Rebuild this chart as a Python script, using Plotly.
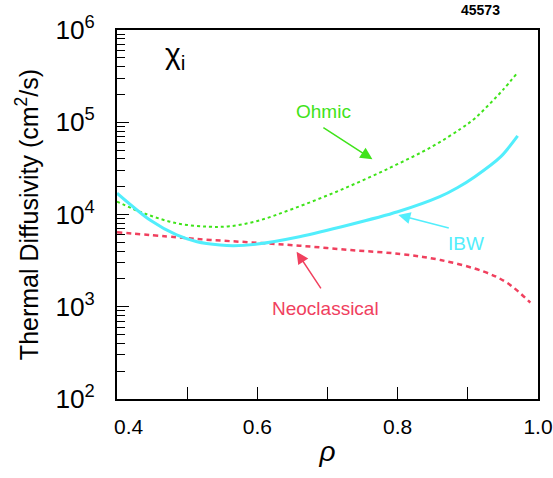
import plotly.graph_objects as go

# ---- data ----
rho_ohmic = [0.40, 0.44, 0.485, 0.53, 0.56, 0.60, 0.65, 0.72, 0.79, 0.85, 0.89, 0.91, 0.93, 0.95, 0.97]
chi_ohmic = [13800, 10200, 8040, 7380, 7450, 8510, 11480, 18620, 32360, 54950, 85100, 110000, 155000, 224000, 339000]

rho_ibw = [0.40, 0.447, 0.485, 0.514, 0.547, 0.566, 0.60, 0.66, 0.73, 0.80, 0.86, 0.885, 0.91, 0.947, 0.971]
chi_ibw = [17000, 8700, 6000, 5070, 4670, 4590, 4790, 5750, 7690, 10700, 15600, 19500, 25700, 42400, 71000]

rho_neo = [0.40, 0.485, 0.533, 0.59, 0.66, 0.733, 0.804, 0.861, 0.923, 0.957, 0.989]
chi_neo = [6410, 5660, 5300, 4990, 4590, 4120, 3730, 3210, 2400, 1795, 1107]

x_tickvals = [0.4, 0.6, 0.8, 1.0]
x_ticktext = ["\u00a0\u00a0\u00a0\u00a00.4", "0.6", "0.8", "1.0"]

GREEN = "#3fe31a"
CYAN = "#52eefc"
RED = "#f0405e"
FONT = "Liberation Sans, Arial, Helvetica, sans-serif"

fig = go.Figure()
fig.add_trace(go.Scatter(x=rho_ohmic, y=chi_ohmic, mode="lines", line_shape="spline",
                         line=dict(color=GREEN, width=2, dash="dot"), name="Ohmic"))
fig.add_trace(go.Scatter(x=rho_neo, y=chi_neo, mode="lines", line_shape="spline",
                         line=dict(color=RED, width=2.5, dash="5px,4px"), name="Neoclassical"))
fig.add_trace(go.Scatter(x=rho_ibw, y=chi_ibw, mode="lines", line_shape="spline", line_smoothing=0.8,
                         line=dict(color=CYAN, width=3), name="IBW"))

# labels and arrows (positions in axis coords; log10 for y)
labels = [
    # text, color, text x, text logy, arrow tail x, tail logy, head x, head logy
    ("Ohmic", GREEN, 0.694, 5.114, 0.692, 4.952, 0.764, 4.598),
    ("IBW", CYAN, 0.898, 3.691, 0.875, 3.850, 0.801, 3.995),
    ("Neoclassical", RED, 0.697, 2.986, 0.692, 3.182, 0.656, 3.597),
]
for txt, col, tx, ty, ax, ay, hx, hy in labels:
    fig.add_annotation(x=tx, y=ty, text=txt, showarrow=False,
                       font=dict(family=FONT, size=19, color=col))
    fig.add_annotation(x=hx, y=hy, ax=ax, ay=ay, axref="x", ayref="y", text="",
                       showarrow=True, arrowhead=2, arrowsize=1.6, arrowwidth=1.5,
                       arrowcolor=col, standoff=0, startstandoff=0)

fig.add_annotation(xref="paper", yref="paper", x=0.11, y=1.0, yshift=-5, text="χ<sub>i</sub>",
                   showarrow=False, xanchor="left", yanchor="top",
                   font=dict(family=FONT, size=30, color="black"))
fig.add_annotation(xref="paper", yref="paper", x=0.915, y=1.0, yshift=10, text="<b>45573</b>",
                   showarrow=False, xanchor="right", yanchor="bottom",
                   font=dict(family=FONT, size=14, color="black"))

fig.update_xaxes(range=[0.4, 1.0], tickvals=x_tickvals, ticktext=x_ticktext,
                 ticks="inside", ticklen=12, tickwidth=1.2, tickcolor="black",
                 minor=dict(dtick=0.1, ticks="inside", ticklen=12, tickwidth=1.2, tickcolor="black", showgrid=False),
                 showline=True, linecolor="black", linewidth=2, mirror=True,
                 showgrid=False, zeroline=False, ticklabelstandoff=8,
                 ticklabeloverflow="allow", automargin=False,
                 tickfont=dict(family=FONT, size=21, color="black"),
                 title=dict(text="<i>ρ</i>", font=dict(family=FONT, size=28, color="black"), standoff=4))
fig.update_yaxes(type="log", range=[2, 6], dtick=1, exponentformat="power",
                 ticks="inside", ticklen=12, tickwidth=1.2, tickcolor="black",
                 minor=dict(ticks="inside", ticklen=8, tickwidth=1, tickcolor="black", showgrid=False),
                 showline=True, linecolor="black", linewidth=2, mirror=True,
                 showgrid=False, zeroline=False, ticklabelstandoff=16,
                 ticklabeloverflow="allow", automargin=False,
                 tickfont=dict(family=FONT, size=21, color="black"),
                 title=dict(text="Thermal Diffusivity (cm<sup>2</sup>/s)",
                            font=dict(family=FONT, size=25, color="black"), standoff=10))

fig.update_layout(width=553, height=478, margin=dict(l=117, r=15, t=30, b=79),
                  plot_bgcolor="white", paper_bgcolor="white", showlegend=False)

fig.write_html("out.html")
